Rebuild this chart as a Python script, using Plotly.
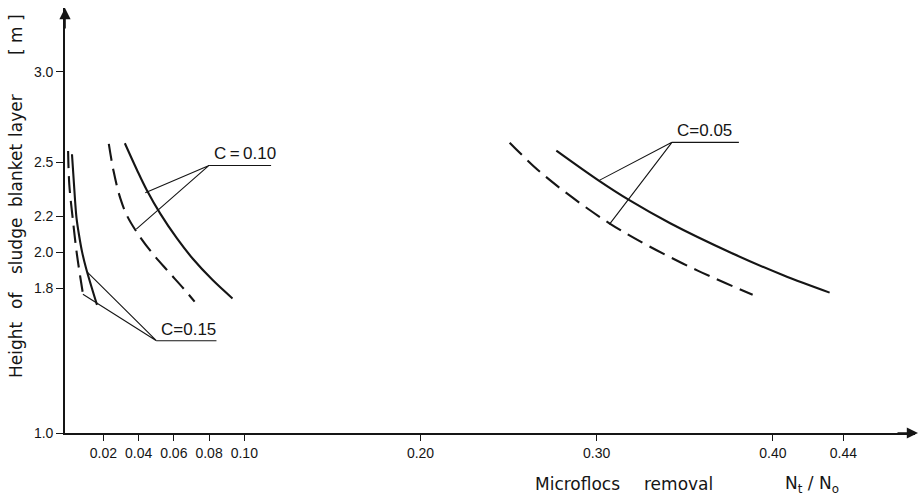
import plotly.graph_objects as go

# ---------------- data ----------------
c015_solid_x = [0.0022, 0.0040, 0.0048, 0.0062, 0.0079, 0.0102, 0.0164]
c015_solid_y = [2.543, 2.280, 2.188, 2.096, 2.004, 1.912, 1.709]
c015_dash_x = [0.0000, 0.0007, 0.0026, 0.0048, 0.0070, 0.0090]
c015_dash_y = [2.561, 2.373, 2.190, 2.004, 1.858, 1.736]

c010_solid_x = [0.0322, 0.0391, 0.0447, 0.0524, 0.0618, 0.0709, 0.0819, 0.0933]
c010_solid_y = [2.604, 2.456, 2.344, 2.213, 2.077, 1.963, 1.848, 1.745]
c010_dash_x = [0.0231, 0.0258, 0.0296, 0.0336, 0.0398, 0.0474, 0.0563, 0.0655, 0.0718]
c010_dash_y = [2.600, 2.450, 2.300, 2.200, 2.100, 2.000, 1.900, 1.800, 1.727]

c005_solid_x = [0.2771, 0.3012, 0.3183, 0.3417, 0.3768, 0.4059, 0.4322]
c005_solid_y = [2.563, 2.397, 2.290, 2.161, 1.995, 1.873, 1.777]
c005_dash_x = [0.2506, 0.2666, 0.2856, 0.3072, 0.3281, 0.3573, 0.3885]
c005_dash_y = [2.607, 2.456, 2.308, 2.161, 2.042, 1.899, 1.765]

label_text = ["C=0.15", "C\u2009=\u20090.10", "C=0.05"]
label_x = [0.0501, 0.0800, 0.3427]
label_x_end = [0.0842, 0.1152, 0.3807]
label_y = [1.511, 2.481, 2.609]
leader_solid_x = [0.0109, 0.0438, 0.3012]
leader_solid_y = [1.890, 2.330, 2.397]
leader_dash_x = [0.0084, 0.0387, 0.3072]
leader_dash_y = [1.768, 2.129, 2.155]

x_ticks = [0.02, 0.04, 0.06, 0.08, 0.10, 0.20, 0.30, 0.40, 0.44]
x_ticktext = ["0.02", "0.04", "0.06", "0.08", "0.10", "0.20", "0.30", "0.40", "0.44"]
y_ticks = [1.0, 1.8, 2.0, 2.2, 2.5, 3.0]
y_ticktext = ["1.0", "1.8", "2.0", "2.2", "2.5", "3.0"]

y_title_words = ["Height", "of", "sludge", "blanket", "layer", "[ m ]"]

# ---------------- figure ----------------
W, H = 919, 496
ML, MR, MT, MB = 65, 4, 8, 63
INK = "#151515"
DASH = "17px,8px"

fig = go.Figure()


def curve(xs, ys, dashed):
    fig.add_trace(go.Scatter(
        x=xs, y=ys, mode="lines", line_shape="spline",
        line=dict(color=INK, width=2.1, dash=DASH if dashed else "solid"),
        hoverinfo="skip", showlegend=False))


curve(c015_solid_x, c015_solid_y, False)
curve(c015_dash_x, c015_dash_y, True)
curve(c010_solid_x, c010_solid_y, False)
curve(c010_dash_x, c010_dash_y, True)
curve(c005_solid_x, c005_solid_y, False)
curve(c005_dash_x, c005_dash_y, True)

for i, t in enumerate(label_text):
    fig.add_trace(go.Scatter(
        x=[leader_solid_x[i], label_x[i], leader_dash_x[i], None, label_x[i], label_x_end[i]],
        y=[leader_solid_y[i], label_y[i], leader_dash_y[i], None, label_y[i], label_y[i]],
        mode="lines", line=dict(color=INK, width=1.1),
        hoverinfo="skip", showlegend=False))
    fig.add_annotation(
        x=label_x[i], y=label_y[i], xref="x", yref="y", text=t,
        showarrow=False, xanchor="left", yanchor="bottom", xshift=3, yshift=0,
        font=dict(family="Liberation Sans", size=17, color=INK))

# plot area geometry: x axis 65..915 px, y axis 8..433 px
x_range = [(65 - 68.1) / 1762, (915 - 68.1) / 1762]
y_range = [1.0, 1.0 + (433 - 8) / 180.65]

fig.update_layout(
    width=W, height=H,
    margin=dict(l=ML, r=MR, t=MT, b=MB),
    paper_bgcolor="white", plot_bgcolor="white",
    showlegend=False,
    xaxis=dict(range=x_range, showgrid=False, zeroline=False, automargin=False,
               showline=True, linecolor=INK, linewidth=1.6,
               tickmode="array", tickvals=x_ticks, ticktext=x_ticktext,
               ticks="outside", ticklen=6, tickwidth=1.2, tickcolor=INK,
               tickfont=dict(family="Liberation Sans", size=14, color=INK)),
    yaxis=dict(range=y_range, showgrid=False, zeroline=False, automargin=False,
               showline=True, linecolor=INK, linewidth=1.6,
               tickmode="array", tickvals=y_ticks, ticktext=y_ticktext,
               ticks="outside", ticklen=7, tickwidth=1.2, tickcolor=INK,
               tickfont=dict(family="Liberation Sans", size=14, color=INK)),
)

PW = W - ML - MR
PH = H - MT - MB


def px_to_paper(px, py):
    return (px - ML) / PW, (H - MB - py) / PH


# axis arrows
tx, ty = px_to_paper(65, 8)
fig.add_annotation(x=tx, y=ty, xref="paper", yref="paper", text="", showarrow=True,
                   ax=0, ay=22, arrowhead=2, arrowsize=1.4, arrowwidth=1.6, arrowcolor=INK)
tx, ty = px_to_paper(918, 433)
fig.add_annotation(x=tx, y=ty, xref="paper", yref="paper", text="", showarrow=True,
                   ax=-22, ay=0, arrowhead=2, arrowsize=1.4, arrowwidth=1.6, arrowcolor=INK)

# y-axis title, word by word (rotated)
word_centers = [350, 301, 246, 176, 116, 35]
for w, cy in zip(y_title_words, word_centers):
    px, py = px_to_paper(16, cy)
    fig.add_annotation(x=px, y=py, xref="paper", yref="paper", text=w, textangle=-90,
                       showarrow=False, xanchor="center", yanchor="middle",
                       font=dict(family="DejaVu Sans", size=17, color=INK))

# x-axis title
for txt, lx in [("Microflocs", 533), ("removal", 642), ("N<sub>t</sub> / N<sub>o</sub>", 783)]:
    px, py = px_to_paper(lx, 484)
    fig.add_annotation(x=px, y=py, xref="paper", yref="paper", text=txt,
                       showarrow=False, xanchor="left", yanchor="middle",
                       font=dict(family="DejaVu Sans", size=17, color=INK))

fig.write_html("out.html", config={"displayModeBar": False},
               post_script="document.body.style.margin='0';")
